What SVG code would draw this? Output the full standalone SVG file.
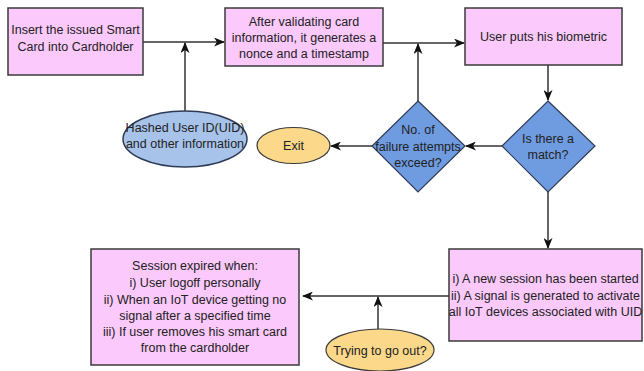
<svg xmlns="http://www.w3.org/2000/svg" width="644" height="371" viewBox="0 0 644 371">
<defs>
<marker id="arr" markerWidth="11" markerHeight="9" refX="10" refY="4.5" orient="auto" markerUnits="userSpaceOnUse">
<path d="M0,0 L11,4.5 L0,9 L3,4.5 z" fill="#111"/>
</marker>
<style>
.box{fill:#fbc9fb;stroke:#3a3a3a;stroke-width:1.5}
.dia{fill:#6f9be0;stroke:#2f3b55;stroke-width:1.2}
.blue{fill:#a7c3ea;stroke:#2f3b55;stroke-width:1.5}
.yel{fill:#fbd88a;stroke:#3a3a3a;stroke-width:1.2}
text{font-family:"Liberation Sans",Arial,sans-serif;font-size:12.5px;fill:#222;text-anchor:middle}
.c line,.c path{stroke:#333;stroke-width:1.5;fill:none;marker-end:url(#arr)}
</style>
</defs>
<rect width="644" height="371" fill="#fff"/>
<g class="c" id="connectors">
<line x1="143" y1="42" x2="224" y2="42"/>
<line x1="185" y1="111" x2="185" y2="43"/>
<line x1="383" y1="43" x2="464" y2="43"/>
<line x1="418" y1="101" x2="418" y2="44"/>
<line x1="548" y1="65" x2="548" y2="100"/>
<line x1="502" y1="146" x2="466" y2="146"/>
<line x1="372" y1="146" x2="331" y2="146"/>
<line x1="548" y1="192" x2="548" y2="248"/>
<line x1="449" y1="296" x2="303" y2="296"/>
<line x1="378" y1="329" x2="378" y2="297"/>
</g>
<g id="n1"><rect class="box" x="8" y="8" width="135" height="67"/>
<text x="75.5" y="34">Insert the issued Smart</text><text x="75.5" y="51">Card into Cardholder</text></g>
<g id="n2"><rect class="box" x="225" y="8" width="158" height="58"/>
<text x="304" y="26">After validating card</text><text x="304" y="42">information, it generates a</text><text x="304" y="58">nonce and a timestamp</text></g>
<g id="n3"><rect class="box" x="465" y="8" width="157" height="57"/>
<text x="543.5" y="41">User puts his biometric</text></g>
<g id="n4"><ellipse class="blue" cx="185" cy="139" rx="62" ry="28"/>
<text x="185" y="132">Hashed User ID(UID)</text><text x="185" y="148">and other information</text></g>
<g id="n5"><ellipse class="yel" cx="293.5" cy="145.5" rx="36.5" ry="18"/>
<text x="293.5" y="150">Exit</text></g>
<g id="n6"><polygon class="dia" points="418,101 465,146 418,192 372,146"/>
<text x="418" y="134">No. of</text><text x="418" y="151">failure attempts</text><text x="418" y="167">exceed?</text></g>
<g id="n7"><polygon class="dia" points="548,101 595,146 548,192 502,146"/>
<text x="548" y="143">Is there a</text><text x="548" y="159">match?</text></g>
<g id="n8"><rect class="box" x="449" y="249" width="193" height="92"/>
<text x="545.5" y="283">i) A new session has been started</text><text x="545.5" y="300">ii) A signal is generated to activate</text><text x="545.5" y="316">all IoT devices associated with UID</text></g>
<g id="n9"><rect class="box" x="91" y="249" width="208" height="116"/>
<text x="195" y="270">Session expired when:</text><text x="195" y="287">i) User logoff personally</text><text x="195" y="304">ii) When an IoT device getting no</text><text x="195" y="320">signal after a specified time</text><text x="195" y="336">iii) If user removes his smart card</text><text x="195" y="352">from the cardholder</text></g>
<g id="n10"><ellipse class="yel" cx="380" cy="350" rx="54" ry="21"/>
<text x="380" y="355">Trying to go out?</text></g>
</svg>
